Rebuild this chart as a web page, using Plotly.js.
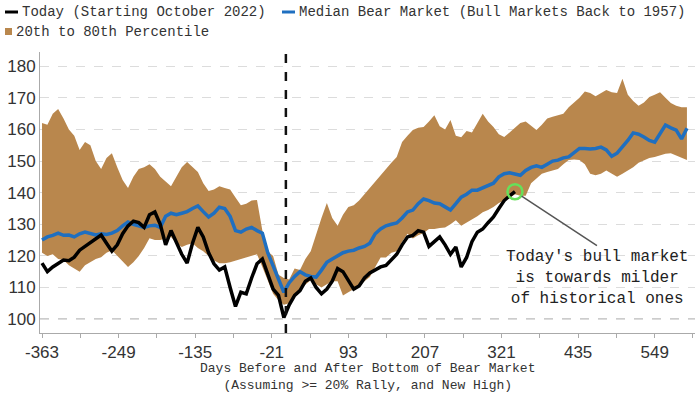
<!DOCTYPE html>
<html>
<head>
<meta charset="utf-8">
<script src="https://cdn.plot.ly/plotly-3.0.1.min.js"></script>
<style>html,body{margin:0;padding:0;background:#fff;}#chart{width:700px;height:394px;}</style>
</head>
<body>
<div id="chart"></div>
<script>
// ---- data (one value every 8 days starting at day -363) ----
const startDay = -363;
const stepDays = 8;

const band80 = [162,161.5,165,166.5,163.5,160,158,153.5,156,155,150,147.5,151,152.5,148,144,141.5,145,147.5,148,
149,147.5,145,143.5,142,145,148,149.7,148,146.5,143,140.5,141,142,141.5,141,138.5,136,136.5,137.5,
137.7,128,121.5,120,114,113,112.5,116,115.5,119,121.5,127,132,136.7,132,129.5,133,135.5,136,137.5,
139.5,141.8,143.5,145.5,147.5,149.5,151.3,156,158,159.8,160.5,160.8,162.5,164.5,161,160,163,158,157.5,159.5,
159,162,165,162.5,160.8,158.5,157.6,159,160.5,162,162.5,161,159.8,161.5,163.5,164,164.5,165,167,168.5,
170,172,171.5,170.5,171.5,172.5,171.8,171.5,176,171,169,167.5,168.5,170.3,171,171.8,170,168.4,167.5,167,167];

const band20 = [121,120,120.5,119,118.7,117,116,115,117,118,119,119.6,121,121.8,120,118,116.5,118,120,122.5,
125.6,125,125,125.5,126,124,122.8,123.5,124,122.5,121.5,120,118.5,117.7,117.7,118,118.5,119,119.6,120,
120.5,116.5,112,108,106,104.5,105,107.5,109.5,111,112.3,111,110,111,112,112,107.5,108.5,109.5,110.5,
112,113.3,116.5,119.5,119.5,121,121.5,124.5,127,125.5,126.5,127.2,128.5,128.5,128.8,129,130,131.3,129.5,130.5,
131.3,132.5,133.8,134.5,135.5,136.7,137.5,138.3,139.5,139,139,143,144.5,146,146.5,147,147.5,149,150.3,150.5,
150.3,149,146,145.5,146,147,146,145,146,147,148,149.5,150.3,151,151.3,151.8,152.3,152.5,151.8,151,150.3];

const median = [125,126,126.5,127.2,126.5,126.6,126,127,127.5,127,126.6,127,126.8,127.2,128,129.5,130.7,130,129.5,129,
129.5,129.7,129,132.5,133.5,133,133.5,134,135,135.8,134,132.3,133.5,135.4,135,132.5,128,127.5,128.5,129,
128,127.2,121,117,112.5,108.5,111.5,113.5,115,114,113.5,113.3,115.5,118,119,120,121,121.5,121.8,122.5,
123,124,127,128.5,129.5,130,130.4,132,133.9,134.5,136.5,138,137.5,136.7,136.5,135.5,134.5,136.5,138.6,139.5,
140.8,140.8,141.5,142.5,143,145,146,146.3,146,145.5,147,148,148.5,148,149,150,150.3,151,151.3,152.5,
154,154,153.8,154,154.4,153.5,151.5,152.5,154.4,156.5,158.9,158.5,157.6,156.5,156,158.5,161.4,160.5,159.8,157,160.4];

const today = [117.7,115,116.5,117.7,118.7,118.5,119.6,121.8,123,124,125.5,126.6,124,121.5,123.5,127,129.5,131,130.5,129,
133,133.9,130,123.5,128,124,120.5,117.7,124,129,126,121,117.5,115.5,116.5,110,104,108.5,108,113,
117.5,119,114,109.5,107.5,100.5,104.5,107.5,109,112,113,110,108,109.5,112,116,115,112,109.5,110.5,
113,114.6,115.5,116.5,117,118.7,120.5,123.5,126,126.5,128,127.5,123,124.5,126,123.5,120.5,122.8,116.5,119.5,
124.5,127.5,128.5,130.5,132.3,135,137.5,139,140.3];

const xTickVals = [-363,-306,-249,-192,-135,-78,-21,36,93,150,207,264,321,378,435,492,549,606];
const xTickText = ['-363','','-249','','-135','','-21','','93','','207','','321','','435','','549',''];
const yTickVals = [100,110,120,130,140,150,160,170,180];

const legendToday = 'Today (Starting October 2022)';
const legendMedian = 'Median Bear Market (Bull Markets Back to 1957)';
const legendBand = '20th to 80th Percentile';
const axisTitle = 'Days Before and After Bottom of Bear Market<br>(Assuming >= 20% Rally, and New High)';
const noteText = "Today's bull market<br>is towards milder<br>of historical ones";

// ---- build ----
const daysBand = band80.map((_, i) => startDay + i * stepDays);
const daysToday = today.map((_, i) => startDay + i * stepDays);

const W = 700, H = 394;
const M = {l: 40, r: 5, t: 52, b: 61};
const PW = W - M.l - M.r, PH = H - M.t - M.b;
const px = x => (x - M.l) / PW;
const py = y => (M.t + PH - y) / PH;

const BROWN = '#b9874d';
const BLUE = '#1f6fc0';
const MONO = '"Liberation Mono", "DejaVu Sans Mono", monospace';
const SANS = '"Liberation Sans", Arial, sans-serif';

const lastDay = daysToday[daysToday.length - 1];
const lastVal = today[today.length - 1];

const traces = [
  {x: daysBand, y: band20, type: 'scatter', mode: 'lines', line: {width: 0, color: BROWN}, hoverinfo: 'skip', showlegend: false},
  {x: daysBand, y: band80, type: 'scatter', mode: 'lines', line: {width: 0, color: BROWN}, fill: 'tonexty', fillcolor: BROWN, name: legendBand, showlegend: false},
  {x: daysBand, y: median, type: 'scatter', mode: 'lines', line: {width: 3.5, color: BLUE}, name: legendMedian, showlegend: false},
  {x: daysToday, y: today, type: 'scatter', mode: 'lines', line: {width: 3.5, color: '#000'}, name: legendToday, showlegend: false},
  {x: [lastDay], y: [lastVal], type: 'scatter', mode: 'markers', marker: {size: 15, color: 'rgba(0,0,0,0)', line: {color: '#66e05a', width: 2.5}}, showlegend: false, hoverinfo: 'skip'}
];

const layout = {
  width: W, height: H,
  margin: M,
  paper_bgcolor: '#fff', plot_bgcolor: '#fff',
  showlegend: false,
  xaxis: {
    range: [-366, 609], tickvals: xTickVals, ticktext: xTickText,
    showline: true, linecolor: '#aaa', linewidth: 1,
    ticks: 'outside', ticklen: 4, tickcolor: '#aaa',
    showgrid: false, zeroline: false,
    tickfont: {family: SANS, size: 17, color: '#333'}
  },
  yaxis: {
    range: [95.6, 184.5], tickvals: yTickVals,
    showline: true, linecolor: '#aaa', linewidth: 1,
    ticks: '', showgrid: true, gridcolor: '#dcdcdc', griddash: 'dash', gridwidth: 1,
    zeroline: false,
    tickfont: {family: SANS, size: 17, color: '#333'}
  },
  shapes: [
    {type: 'line', xref: 'paper', yref: 'y', x0: 0, x1: 1, y0: 100, y1: 100, line: {color: '#999', width: 1.2, dash: 'dash'}, layer: 'below'},
    {type: 'line', xref: 'x', yref: 'paper', x0: 0, x1: 0, y0: 0, y1: 1, line: {color: '#111', width: 2.5, dash: 'dash'}},
    // legend swatches
    {type: 'line', xref: 'paper', yref: 'paper', x0: px(5), x1: px(18), y0: py(12), y1: py(12), line: {color: '#000', width: 3}},
    {type: 'line', xref: 'paper', yref: 'paper', x0: px(282), x1: px(295), y0: py(12), y1: py(12), line: {color: BLUE, width: 3}},
    {type: 'rect', xref: 'paper', yref: 'paper', x0: px(5), x1: px(12), y0: py(35), y1: py(28), line: {width: 0}, fillcolor: BROWN}
  ],
  annotations: [
    {xref: 'paper', yref: 'paper', x: px(20), y: py(12), xanchor: 'left', yanchor: 'middle', showarrow: false, text: legendToday, font: {family: MONO, size: 14, color: '#333'}},
    {xref: 'paper', yref: 'paper', x: px(297), y: py(12), xanchor: 'left', yanchor: 'middle', showarrow: false, text: legendMedian, font: {family: MONO, size: 14, color: '#333'}},
    {xref: 'paper', yref: 'paper', x: px(14), y: py(32), xanchor: 'left', yanchor: 'middle', showarrow: false, text: legendBand, font: {family: MONO, size: 14, color: '#333'}},
    {xref: 'paper', yref: 'paper', x: 0.5, y: py(394), xanchor: 'center', yanchor: 'bottom', showarrow: false, borderpad: 0, text: axisTitle, font: {family: MONO, size: 13, color: '#333'}},
    {xref: 'x', yref: 'y', x: lastDay, y: lastVal, ax: 82, ay: 54, xanchor: 'center', yanchor: 'top',
     showarrow: true, arrowhead: 0, arrowwidth: 1.5, arrowcolor: '#555', standoff: 8,
     text: noteText, align: 'center', font: {family: MONO, size: 16, color: '#222'}}
  ]
};

Plotly.newPlot('chart', traces, layout, {displayModeBar: false, staticPlot: true});
</script>
</body>
</html>
